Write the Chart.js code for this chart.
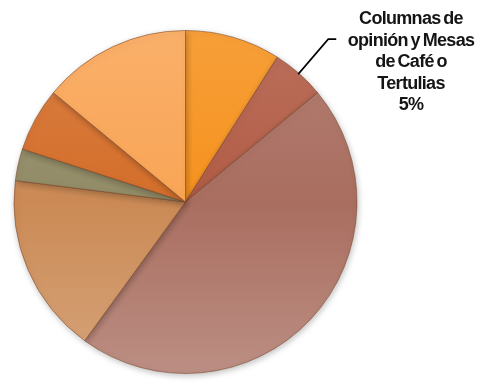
<!DOCTYPE html>
<html>
<head>
<meta charset="utf-8">
<script src="https://cdn.jsdelivr.net/npm/chart.js@4/dist/chart.umd.min.js"></script>
<style>
  html, body { margin: 0; padding: 0; background: #ffffff; }
  #wrap { width: 478px; height: 383px; position: relative; }
</style>
</head>
<body>
<div id="wrap"><canvas id="pie"></canvas></div>
<script>
// Media categories and their shares (%), clockwise from 12 o'clock
const categories = [
  'Noticieros',
  'Columnas de opinión y Mesas de Café o Tertulias',
  'Entrevistas',
  'Reportajes',
  'Crónicas',
  'Editoriales',
  'Otros'
];
const shares = [9, 5, 46, 17, 3, 6, 14];
const sliceColors = ['#F6921E', '#B25C46', '#A96E60', '#CB8A55', '#918B66', '#D46E2A', '#F9A556'];
// Only this slice carries an outside label
const labelledIndex = 1;
const labelLines = ['Columnas de', 'opinión y Mesas', 'de Café o', 'Tertulias', '5%'];

function hexToRgb(h) {
  const n = parseInt(h.slice(1), 16);
  return [(n >> 16) & 255, (n >> 8) & 255, n & 255];
}
function tint(h, t) {
  const c = hexToRgb(h).map(v => Math.round(v + (255 - v) * t));
  return `rgb(${c[0]},${c[1]},${c[2]})`;
}

function sliceFill(context) {
  const chart = context.chart;
  const area = chart.chartArea;
  const base = sliceColors[context.dataIndex];
  if (!area) return base;
  const g = chart.ctx.createLinearGradient(0, area.top, 0, area.bottom);
  g.addColorStop(0, tint(base, 0.12));
  g.addColorStop(0.5, base);
  g.addColorStop(1, tint(base, 0.22));
  return g;
}

// Soft shadow under the pie
const shadowPlugin = {
  id: 'pieShadow',
  beforeDatasetsDraw(chart) {
    const ctx = chart.ctx;
    ctx.save();
    ctx.shadowColor = 'rgba(0,0,0,0.25)';
    ctx.shadowBlur = 6;
    ctx.shadowOffsetX = 1;
    ctx.shadowOffsetY = 2;
  },
  afterDatasetsDraw(chart) {
    chart.ctx.restore();
  }
};

// Leader line and text for the labelled slice
const calloutPlugin = {
  id: 'callout',
  afterDraw(chart) {
    const arc = chart.getDatasetMeta(0).data[labelledIndex];
    if (!arc) return;
    const ctx = chart.ctx;
    const mid = (arc.startAngle + arc.endAngle) / 2;
    const sx = arc.x + Math.cos(mid) * (arc.outerRadius - 1);
    const sy = arc.y + Math.sin(mid) * (arc.outerRadius - 1);
    const ex = sx + 30, ey = sy - 35;
    ctx.save();
    ctx.strokeStyle = '#000000';
    ctx.lineWidth = 1.6;
    ctx.beginPath();
    ctx.moveTo(sx, sy);
    ctx.lineTo(ex, ey);
    ctx.lineTo(ex + 8, ey);
    ctx.stroke();

    ctx.fillStyle = '#151515';
    ctx.textAlign = 'center';
    ctx.textBaseline = 'middle';
    ctx.font = 'bold 18px "Liberation Sans", Arial, sans-serif';
    if ('letterSpacing' in ctx) ctx.letterSpacing = '-0.7px';
    if ('wordSpacing' in ctx) ctx.wordSpacing = '-1.5px';
    const cx = 411;
    const top = 19;
    labelLines.forEach((t, i) => ctx.fillText(t, cx, top + i * 21.6));
    ctx.restore();
  }
};

new Chart(document.getElementById('pie'), {
  type: 'pie',
  data: {
    labels: categories,
    datasets: [{
      data: shares,
      backgroundColor: sliceFill,
      borderColor: 'rgba(120,70,40,0.55)',
      borderWidth: 1
    }]
  },
  options: {
    responsive: true,
    maintainAspectRatio: false,
    animation: false,
    rotation: 0,
    layout: { padding: { left: 13.5, right: 120.5, top: 30, bottom: 9 } },
    plugins: {
      legend: { display: false },
      tooltip: { enabled: false },
      title: { display: false }
    }
  },
  plugins: [shadowPlugin, calloutPlugin]
});
</script>
</body>
</html>
